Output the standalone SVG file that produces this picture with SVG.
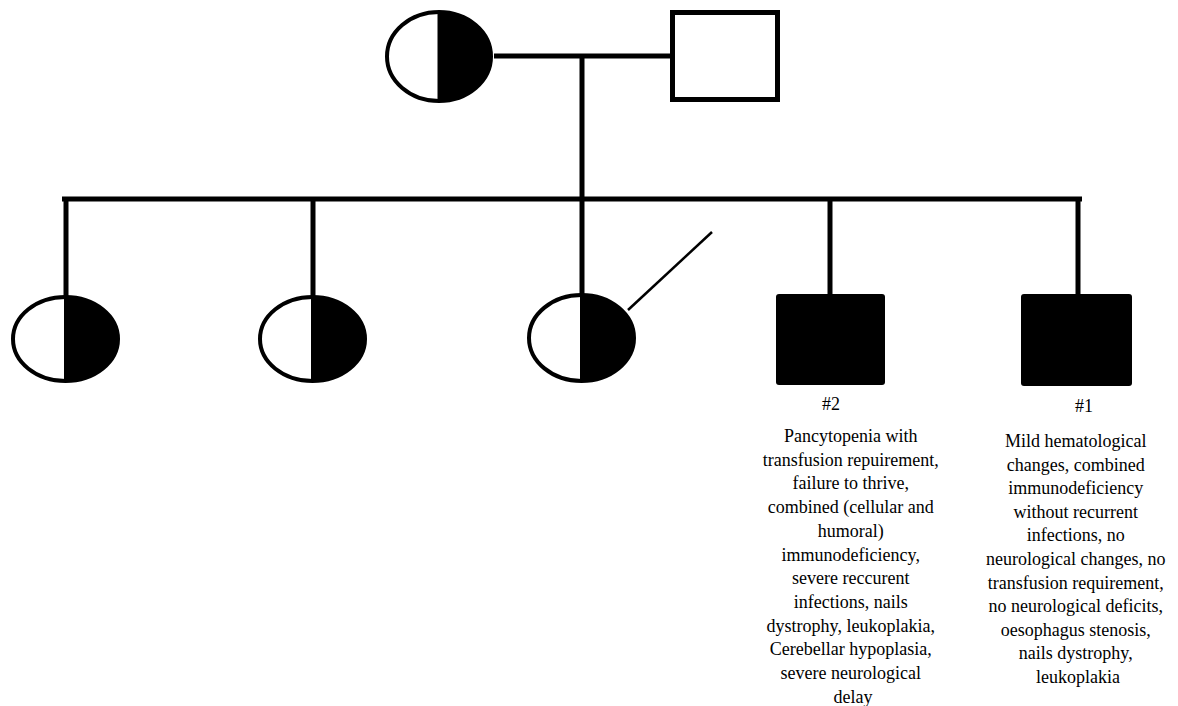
<svg xmlns="http://www.w3.org/2000/svg" width="1178" height="706" viewBox="0 0 1178 706">
<style>
.ln{stroke:#000;stroke-width:5;fill:none;stroke-linecap:butt}
.thin{stroke:#000;stroke-width:2.5;fill:none}
.bg{fill:#fff}
.ring{fill:none;stroke:#000;stroke-width:4}
.half{fill:#000}
.div{stroke:#000;stroke-width:3}
.sq{fill:#fff;stroke:#000;stroke-width:5}
.aff{fill:#000}
.t{font-family:"Liberation Serif","Times New Roman",serif;font-size:18px;fill:#000;text-anchor:middle}
</style>
<rect width="1178" height="706" fill="#fff"/>
<g id="connectors">
<line class="ln" x1="494" y1="56" x2="672" y2="56"/>
<line class="ln" x1="582" y1="56" x2="582" y2="199"/>
<line class="ln" x1="62" y1="199" x2="1082" y2="199"/>
<line class="ln" x1="66" y1="199" x2="66" y2="297"/>
<line class="ln" x1="313" y1="199" x2="313" y2="297"/>
<line class="ln" x1="582" y1="199" x2="582" y2="296"/>
<line class="ln" x1="830" y1="199" x2="830" y2="295"/>
<line class="ln" x1="1078" y1="199" x2="1078" y2="295"/>
<line class="thin" x1="628" y1="310" x2="712" y2="232"/>
</g>
<g id="mother">
<ellipse class="bg" cx="439" cy="56.5" rx="52" ry="44.5"/>
<path class="half" d="M439,12 A52,44.5 0 0 1 439,101 Z"/>
<ellipse class="ring" cx="439" cy="56.5" rx="52" ry="44.5"/>
<line class="div" x1="439" y1="12" x2="439" y2="101"/>
</g>
<g id="father">
<rect class="sq" x="672.5" y="12.5" width="105" height="87"/>
</g>
<g id="daughter1">
<ellipse class="bg" cx="65.5" cy="339" rx="52.5" ry="42"/>
<path class="half" d="M65.5,297 A52.5,42 0 0 1 65.5,381 Z"/>
<ellipse class="ring" cx="65.5" cy="339" rx="52.5" ry="42"/>
<line class="div" x1="65.5" y1="297" x2="65.5" y2="381"/>
</g>
<g id="daughter2">
<ellipse class="bg" cx="312.5" cy="339" rx="52.5" ry="42"/>
<path class="half" d="M312.5,297 A52.5,42 0 0 1 312.5,381 Z"/>
<ellipse class="ring" cx="312.5" cy="339" rx="52.5" ry="42"/>
<line class="div" x1="312.5" y1="297" x2="312.5" y2="381"/>
</g>
<g id="daughter3">
<ellipse class="bg" cx="581.5" cy="338" rx="52.5" ry="43"/>
<path class="half" d="M581.5,295 A52.5,43 0 0 1 581.5,381 Z"/>
<ellipse class="ring" cx="581.5" cy="338" rx="52.5" ry="43"/>
<line class="div" x1="581.5" y1="295" x2="581.5" y2="381"/>
</g>
<g id="son2">
<rect class="aff" x="776" y="294" width="109" height="91" rx="3"/>
<text class="t" x="831" y="410">#2</text>
<text class="t">
<tspan x="853" y="442">Pancytopenia with</tspan>
<tspan x="853" y="465.7">transfusion repuirement,</tspan>
<tspan x="853" y="489.4">failure to thrive,</tspan>
<tspan x="853" y="513.1">combined (cellular and</tspan>
<tspan x="853" y="536.8">humoral)</tspan>
<tspan x="853" y="560.5">immunodeficiency,</tspan>
<tspan x="853" y="584.2">severe reccurent</tspan>
<tspan x="853" y="607.9">infections, nails</tspan>
<tspan x="853" y="631.6">dystrophy, leukoplakia,</tspan>
<tspan x="853" y="655.3">Cerebellar hypoplasia,</tspan>
<tspan x="853" y="679">severe neurological</tspan>
<tspan x="853" y="702.7">delay</tspan>
</text>
</g>
<g id="son1">
<rect class="aff" x="1021" y="294" width="111" height="92" rx="3"/>
<text class="t" x="1084" y="412">#1</text>
<text class="t">
<tspan x="1078" y="447">Mild hematological</tspan>
<tspan x="1078" y="470.6">changes, combined</tspan>
<tspan x="1078" y="494.2">immunodeficiency</tspan>
<tspan x="1078" y="517.8">without recurrent</tspan>
<tspan x="1078" y="541.4">infections, no</tspan>
<tspan x="1078" y="565">neurological changes, no</tspan>
<tspan x="1078" y="588.6">transfusion requirement,</tspan>
<tspan x="1078" y="612.2">no neurological deficits,</tspan>
<tspan x="1078" y="635.8">oesophagus stenosis,</tspan>
<tspan x="1078" y="659.4">nails dystrophy,</tspan>
<tspan x="1078" y="683">leukoplakia</tspan>
</text>
</g>
</svg>
